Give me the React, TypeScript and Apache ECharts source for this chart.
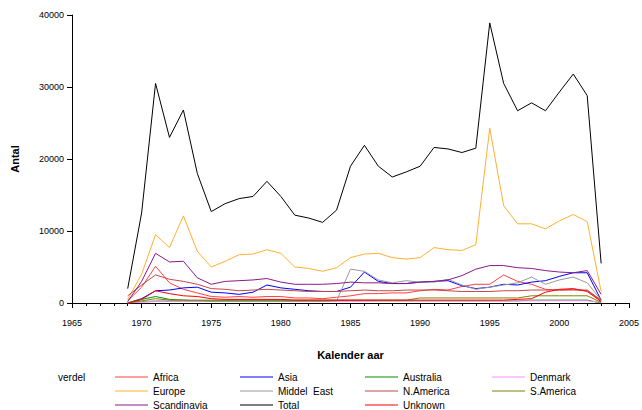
import React, { useEffect, useRef } from "react";
import * as echarts from "echarts";

const years = Array.from({ length: 35 }, (_, i) => 1969 + i);
const total = [2000,12500,30500,23000,26800,18000,12700,13800,14500,14800,16900,14800,12200,11800,11200,12900,19000,21900,19000,17500,18200,19000,21600,21400,20900,21500,38900,30500,26700,27800,26700,29300,31800,28800,5500];
const europe = [500,4000,9500,7700,12100,7200,5000,5800,6700,6800,7400,6900,5000,4800,4400,4900,6300,6800,6900,6300,6100,6300,7700,7400,7300,8100,24300,13500,11000,11000,10300,11400,12300,11300,1600];
const scandinavia = [200,3000,6900,5700,5800,3500,2600,3000,3100,3200,3400,2900,2600,2600,2600,2700,2900,2800,2800,2700,2700,2900,3000,3200,3800,4700,5200,5200,4900,4800,4500,4300,4200,4500,1200];
const asia = [0,600,1700,1800,2100,2200,1500,1400,1200,1500,2500,2100,1900,1700,1600,1600,2200,4300,3000,2700,2700,2900,3000,3100,2400,2000,2200,2600,2500,2900,3100,3700,4200,4200,400];
const middelEast = [100,200,300,300,300,300,200,200,200,200,200,200,200,200,200,300,4700,4400,3200,2800,3100,2900,2900,3300,2500,1900,2200,2500,2800,3600,2600,3200,3600,2800,400];
const africa = [300,2200,5100,2800,1900,1400,900,800,900,800,900,900,700,700,600,800,1000,1300,1300,1400,1400,1700,1900,1800,2300,2600,2600,3900,3000,2600,1900,1800,1900,1700,300];
const nAmerica = [1000,2500,3900,3300,3000,2600,2000,1900,1700,1800,1900,1800,1700,1600,1600,1600,1700,1800,1700,1700,1800,1800,1800,1700,1600,1600,1600,1700,1700,1800,1800,1800,1800,1800,400];
const unknown = [0,500,1700,1300,1000,900,600,500,500,500,500,500,400,400,400,400,400,400,400,400,400,400,400,400,400,400,400,400,500,600,1500,1900,2000,1600,200];
const australia = [0,500,900,500,400,300,300,300,300,300,300,300,300,300,300,300,300,300,300,300,300,300,300,300,300,300,300,300,300,400,400,400,400,400,0];
const sAmerica = [0,300,600,400,400,400,400,400,400,400,400,400,400,400,400,400,400,400,400,400,400,700,700,700,700,700,700,700,700,1000,1000,1000,1000,1000,100];
const denmark = [0,100,200,200,200,200,200,200,200,200,200,200,200,200,200,200,200,200,300,300,300,300,300,300,300,300,300,300,300,300,300,300,300,300,100];

const seriesDefs: [string, number[], string][] = [
  ["Africa", africa, "#ff4040"],
  ["Asia", asia, "#0000ff"],
  ["Australia", australia, "#009000"],
  ["Denmark", denmark, "#ff90ff"],
  ["Europe", europe, "#ffb030"],
  ["Middel  East", middelEast, "#999999"],
  ["N.America", nAmerica, "#c04848"],
  ["S.America", sAmerica, "#808000"],
  ["Scandinavia", scandinavia, "#8a1a8a"],
  ["Total", total, "#000000"],
  ["Unknown", unknown, "#ff0000"],
];
const legendCols = [
  ["Africa", "Europe", "Scandinavia"],
  ["Asia", "Middel  East", "Total"],
  ["Australia", "N.America", "Unknown"],
  ["Denmark", "S.America"],
];
const legendLefts = [115, 240, 365, 492];
const font = "Liberation Sans, Arial, sans-serif";

export default function App() {
  const ref = useRef<HTMLDivElement>(null);
  useEffect(() => {
    document.body.style.margin = "0";
    const chart = echarts.init(ref.current!, null, { renderer: "svg" });
    chart.setOption({
      animation: false,
      backgroundColor: "#fff",
      textStyle: { fontFamily: font },
      grid: { left: 72, right: 13, top: 15, bottom: 107 },
      xAxis: {
        type: "value", min: 1965, max: 2005, interval: 5, offset: 6,
        name: "Kalender aar", nameLocation: "middle", nameGap: 40,
        nameTextStyle: { fontSize: 11, color: "#000", fontWeight: "bold" },
        axisLine: { lineStyle: { color: "#000" } },
        axisTick: { lineStyle: { color: "#000" }, length: 5 },
        minorTick: { show: true, splitNumber: 5, length: 3, lineStyle: { color: "#000" } },
        axisLabel: { fontSize: 9, color: "#000", margin: 9, formatter: (v: number) => String(v) },
        splitLine: { show: false },
      },
      yAxis: {
        type: "value", min: 0, max: 40000, interval: 10000,
        name: "Antal", nameLocation: "middle", nameGap: 52,
        nameTextStyle: { fontSize: 11, color: "#000", fontWeight: "bold" },
        axisLine: { show: true, lineStyle: { color: "#000" } },
        axisTick: { show: true, lineStyle: { color: "#000" }, length: 5 },
        axisLabel: { fontSize: 9, color: "#000", formatter: (v: number) => String(v) },
        splitLine: { show: false },
      },
      legend: legendCols.map((col, i) => ({
        data: col, orient: "vertical", left: legendLefts[i], top: 372, height: 60, width: 120,
        itemWidth: 33, itemHeight: 10, itemGap: 4, padding: 0,
        icon: "path://M0,4.5 L33,4.5 L33,5.5 L0,5.5 Z",
        textStyle: { fontSize: 10, color: "#000", fontFamily: font },
        selectedMode: false,
      })),
      graphic: [{ type: "text", left: 58, top: 372, style: { text: "verdel", fontSize: 10, fill: "#000", fontFamily: font } }],
      series: seriesDefs.map(([name, vals, color]) => ({
        name, type: "line", data: years.map((y, i) => [y, vals[i]]),
        showSymbol: false, symbol: "none", color,
        lineStyle: { width: 1, color },
      })),
    });
    return () => chart.dispose();
  }, []);
  return <div ref={ref} style={{ width: 642, height: 410 }} />;
}
